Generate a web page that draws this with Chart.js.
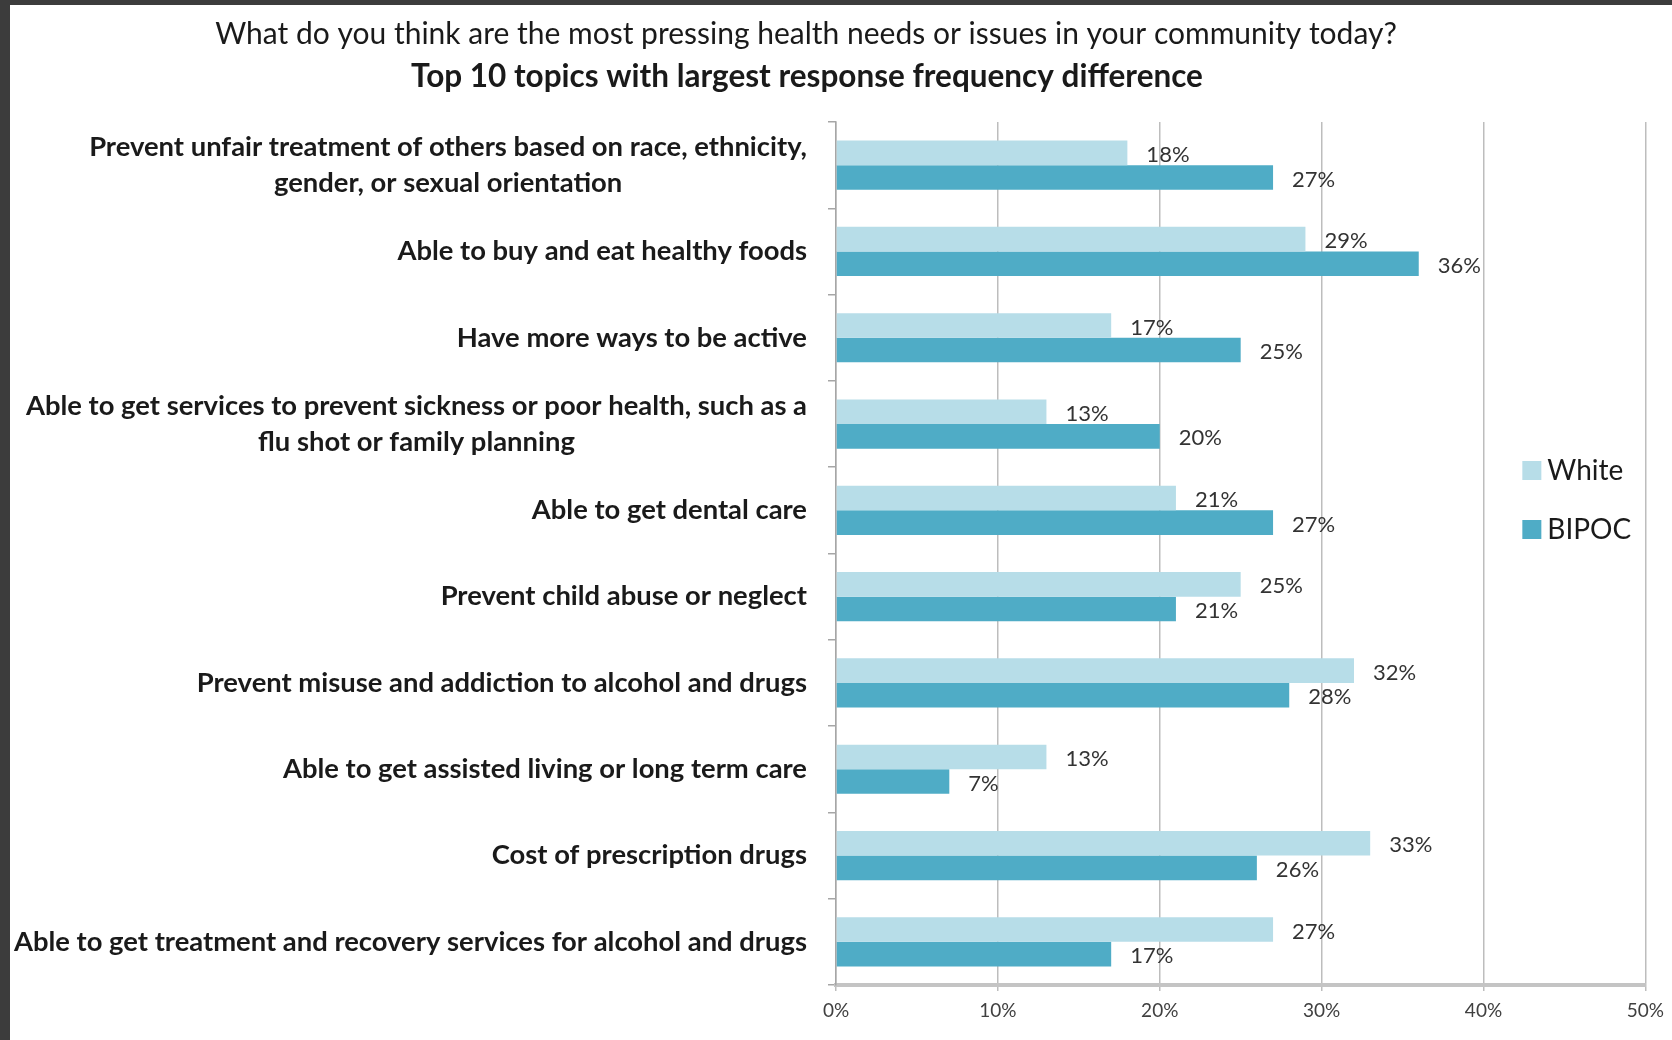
<!DOCTYPE html>
<html>
<head>
<meta charset="utf-8">
<title>Most pressing health needs – White vs BIPOC</title>
<script src="https://cdn.jsdelivr.net/npm/chart.js@4.4.1/dist/chart.umd.min.js"></script>
<style>
  html, body { margin: 0; padding: 0; background: #3c3c3c; }
  #wrap { position: absolute; left: 0; top: 0; width: 1672px; height: 1040px; }
</style>
</head>
<body>
<div id="wrap"><canvas id="chart" width="1672" height="1040"></canvas></div>
<script>
// Survey topics (multi-line entries are drawn as centred blocks)
const categories = [
  ["Prevent unfair treatment of others based on race, ethnicity,", "gender, or sexual orientation"],
  "Able to buy and eat healthy foods",
  "Have more ways to be active",
  ["Able to get services to prevent sickness or poor health, such as a", "flu shot or family planning"],
  "Able to get dental care",
  "Prevent child abuse or neglect",
  "Prevent misuse and addiction to alcohol and drugs",
  "Able to get assisted living or long term care",
  "Cost of prescription drugs",
  "Able to get treatment and recovery services for alcohol and drugs"
];

// Share of respondents choosing each topic (%)
const whiteValues = [18, 29, 17, 13, 21, 25, 32, 13, 33, 27];
const bipocValues = [27, 36, 25, 20, 27, 21, 28, 7, 26, 17];

const seriesNames = ["White", "BIPOC"];
const xTicks = [0, 10, 20, 30, 40, 50];

const titleText = "What do you think are the most pressing health needs or issues in your community today?";
const subtitleText = "Top 10 topics with largest response frequency difference";

const COLORS = { white: "#b7dde8", bipoc: "#4facc6" };
const TEXT = "#1a1a1a";
const FONT = "Lato, 'Open Sans', sans-serif";

// Page frame, white sheet and the two heading lines
const framePlugin = {
  id: "frame",
  beforeDraw(chart) {
    const ctx = chart.ctx;
    ctx.save();
    ctx.fillStyle = "#3c3c3c";
    ctx.fillRect(0, 0, chart.width, chart.height);
    ctx.fillStyle = "#ffffff";
    ctx.fillRect(10, 5, chart.width - 10, chart.height - 5);
    ctx.fillStyle = TEXT;
    ctx.textAlign = "center";
    ctx.textBaseline = "middle";
    ctx.font = "400 30px " + FONT;
    ctx.fillText(titleText, 806, 34);
    ctx.font = "700 31.5px " + FONT;
    ctx.fillText(subtitleText, 807, 77);
    ctx.restore();
  }
};

// Category labels: right edge against the axis, extra lines centred under the first
const categoryLabelPlugin = {
  id: "categoryLabels",
  afterDraw(chart) {
    const ctx = chart.ctx;
    const yScale = chart.scales.y;
    const right = chart.chartArea.left - 29;
    const lineH = 36;
    ctx.save();
    ctx.fillStyle = TEXT;
    ctx.font = "700 27.4px " + FONT;
    ctx.textAlign = "center";
    ctx.textBaseline = "middle";
    categories.forEach((label, i) => {
      const lines = Array.isArray(label) ? label : [label];
      const w = Math.max(...lines.map(l => ctx.measureText(l).width));
      const cx = right - w / 2;
      const cy = yScale.getPixelForValue(i);
      lines.forEach((line, j) => {
        ctx.fillText(line, cx, cy + (j - (lines.length - 1) / 2) * lineH);
      });
    });
    ctx.restore();
  }
};

// Percentage labels to the right of each bar
const valueLabelPlugin = {
  id: "valueLabels",
  afterDatasetsDraw(chart) {
    const ctx = chart.ctx;
    ctx.save();
    ctx.fillStyle = "#333333";
    ctx.font = "400 22px " + FONT;
    ctx.textAlign = "left";
    ctx.textBaseline = "middle";
    chart.data.datasets.forEach((ds, di) => {
      chart.getDatasetMeta(di).data.forEach((bar, i) => {
        ctx.fillText(ds.data[i] + "%", bar.x + 19, bar.y + 2);
      });
    });
    ctx.restore();
  }
};

// Legend placed inside the plot, between the 40% and 50% lines
const legendPlugin = {
  id: "sideLegend",
  afterDraw(chart) {
    const ctx = chart.ctx;
    const x = chart.scales.x.getPixelForValue(42.4);
    const rows = [471, 530];
    ctx.save();
    ctx.font = "400 28px " + FONT;
    ctx.textAlign = "left";
    ctx.textBaseline = "middle";
    chart.data.datasets.forEach((ds, i) => {
      ctx.fillStyle = ds.backgroundColor;
      ctx.fillRect(x, rows[i] - 10, 19, 19);
      ctx.fillStyle = TEXT;
      ctx.fillText(ds.label, x + 25, rows[i]);
    });
    ctx.restore();
  }
};

new Chart(document.getElementById("chart"), {
  type: "bar",
  data: {
    labels: categories.map(c => Array.isArray(c) ? c.join(" ") : c),
    datasets: [
      { label: seriesNames[0], data: whiteValues, backgroundColor: COLORS.white },
      { label: seriesNames[1], data: bipocValues, backgroundColor: COLORS.bipoc }
    ]
  },
  options: {
    indexAxis: "y",
    responsive: false,
    animation: false,
    events: [],
    layout: { padding: { top: 122, right: 19, bottom: 0, left: 0 } },
    datasets: { bar: { barPercentage: 1.0, categoryPercentage: 0.57 } },
    plugins: { legend: { display: false }, tooltip: { enabled: false }, title: { display: false } },
    scales: {
      x: {
        type: "linear",
        min: 0,
        max: 50,
        afterBuildTicks(scale) { scale.ticks = xTicks.map(v => ({ value: v })); },
        afterFit(scale) { scale.height = 55; },
        ticks: {
          callback: v => v + "%",
          color: "#404040",
          font: { family: FONT, size: 19 },
          padding: 8,
          maxRotation: 0
        },
        grid: { color: "#bdbdbd", lineWidth: 1.5, tickLength: 6, drawTicks: true },
        border: { color: "#c4c4c4", width: 4 }
      },
      y: {
        type: "category",
        afterFit(scale) { scale.width = 836; },
        ticks: { display: false },
        grid: { drawOnChartArea: false, drawTicks: true, tickLength: 8, color: "#a6a6a6", lineWidth: 1.5, offset: true },
        border: { color: "#a6a6a6", width: 1.5 }
      }
    }
  },
  plugins: [framePlugin, categoryLabelPlugin, valueLabelPlugin, legendPlugin]
});
</script>
</body>
</html>
